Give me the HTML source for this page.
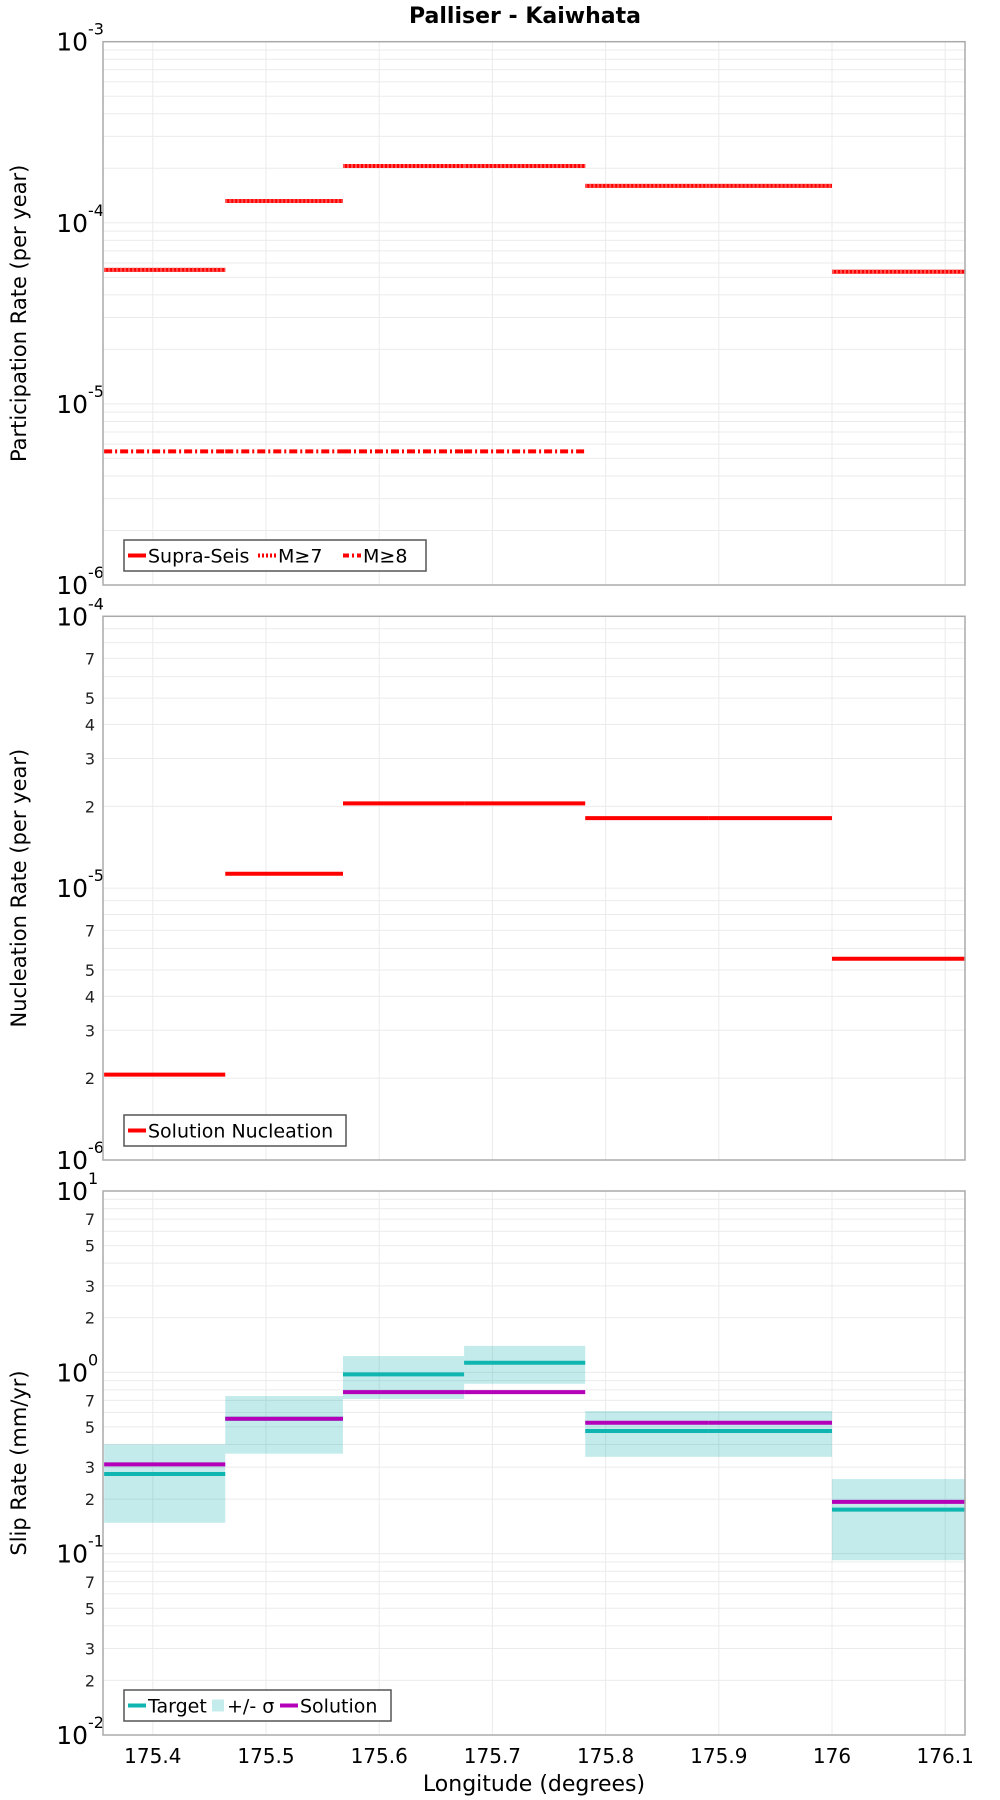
<!DOCTYPE html>
<html><head><meta charset="utf-8"><style>
html,body{margin:0;padding:0;background:#fff;}
svg{display:block;font-family:"DejaVu Sans","Liberation Sans",sans-serif;}
</style></head><body>
<svg id="chart" xmlns="http://www.w3.org/2000/svg" width="1000" height="1800" viewBox="0 0 1000 1800">
<text x="525" y="23" text-anchor="middle" font-size="22" font-weight="bold">Palliser - Kaiwhata</text>
<text x="534" y="1791" text-anchor="middle" font-size="22">Longitude (degrees)</text>
</svg>
<script>
const segStart = [175.357, 175.464, 175.568, 175.675, 175.782, 175.891, 176.0];
const segEnd   = [175.464, 175.568, 175.675, 175.782, 175.891, 176.0, 176.118];
const partSupra = [5.5e-5, 1.32e-4, 2.06e-4, 2.06e-4, 1.6e-4, 1.6e-4, 5.37e-5];
const partM8 = [5.47e-6, 5.47e-6, 5.47e-6, 5.47e-6];
const nucl = [2.06e-6, 1.13e-5, 2.05e-5, 2.05e-5, 1.81e-5, 1.81e-5, 5.5e-6];
const slipTarget = [0.275, 0.555, 0.975, 1.13, 0.475, 0.475, 0.175];
const slipSolution = [0.311, 0.555, 0.778, 0.778, 0.527, 0.527, 0.193];
const slipHigh = [0.401, 0.740, 1.23, 1.40, 0.612, 0.612, 0.258];
const slipLow = [0.148, 0.356, 0.713, 0.865, 0.342, 0.342, 0.092];
const xTicks = [175.4, 175.5, 175.6, 175.7, 175.8, 175.9, 176.0, 176.1];
const xTickLabels = ["175.4","175.5","175.6","175.7","175.8","175.9","176","176.1"];

const NS = "http://www.w3.org/2000/svg";
const svg = document.getElementById('chart');
const X0 = 103, X1 = 965, XMIN = 175.356, XMAX = 176.1175;
function xs(v){ return X0 + (v - XMIN) / (XMAX - XMIN) * (X1 - X0); }
function mk(tag, attrs, parent){ const e = document.createElementNS(NS, tag); for (const k in attrs) e.setAttribute(k, attrs[k]); (parent||svg).appendChild(e); return e; }

function panel(name, top, bot, lmax, lmin, minorLabels, title){
  const g = mk('g', {});
  
  
  const ys = v => top + (lmax - Math.log10(v)) / (lmax - lmin) * (bot - top);
  for (let d = lmin; d < lmax; d++) {
    for (let m = 1; m <= 9; m++) {
      const y = ys(m * Math.pow(10, d));
      const gl = mk('line', {x1:X0, x2:X1, y1:y, y2:y, stroke:'#ebebeb', 'stroke-width':1}, g);
      
      
      if (m > 1 && minorLabels.includes(m)) {
        const t = mk('text', {x:95, y:y+6, 'text-anchor':'end', 'font-size':16, fill:'#222'}, g);
        
        
        t.textContent = String(m);
      }
    }
  }
  for (let i = 0; i < xTicks.length; i++) {
    const x = xs(xTicks[i]);
    const gl = mk('line', {x1:x, x2:x, y1:top, y2:bot, stroke:'#ebebeb', 'stroke-width':1}, g);
    
    
  }
  for (let d = lmin; d <= lmax; d++) {
    const y = ys(Math.pow(10, d));
    const t = mk('text', {x:88, y:y+9, 'text-anchor':'end', 'font-size':25}, g);
    
    
    t.textContent = '10';
    const e = mk('text', {x:88, y:y-7, 'text-anchor':'start', 'font-size':16}, g);
    
    
    e.textContent = String(d);
  }
  const at = mk('text', {x:0, y:0, 'text-anchor':'middle', 'font-size':21, transform:`translate(26 ${(top+bot)/2}) rotate(-90)`}, g);
  
  
  at.textContent = title;
  return {g, ys};
}
function border(g, top, bot){
  const r = mk('rect', {x:X0, y:top, width:X1-X0, height:bot-top, fill:'none', stroke:'#aaaaaa', 'stroke-width':1.5}, g);
  
  
}
function seg(g, name, i, y, color, dash){
  const a = {x1:xs(segStart[i]), x2:xs(segEnd[i]), y1:y, y2:y, stroke:color, 'stroke-width':4};
  if (dash) a['stroke-dasharray'] = dash;
  const l = mk('line', a, g);
  
  
}
function legend(g, x, y, w, h, items){
  const r = mk('rect', {x:x, y:y, width:w, height:h, fill:'#fff', stroke:'#555', 'stroke-width':1.5}, g);
  
  
  for (const it of items) {
    const s = it.box ? mk('rect', {x:it.x, y:y+h/2-6, width:12, height:12, fill:it.color}, g)
      : mk('line', {x1:it.x, x2:it.x+18, y1:y+h/2, y2:y+h/2, stroke:it.color, 'stroke-width':4, 'stroke-dasharray':it.dash||'none'}, g);
    
    
    const t = mk('text', {x:it.x+(it.box?15:20), y:y+h/2+7, 'font-size':19}, g);
    
    
    t.textContent = it.label;
  }
}

let p = panel('participation-panel', 41.7, 585, -3, -6, [], 'Participation Rate (per year)');
for (let i = 0; i < partSupra.length; i++) { seg(p.g, 'supra-seis-segment', i, p.ys(partSupra[i]), '#ff0000'); seg(p.g, 'm7-segment', i, p.ys(partSupra[i]), '#ff5050', '2 2'); }
for (let i = 0; i < partM8.length; i++) seg(p.g, 'm8-segment', i, p.ys(partM8[i]), '#ff0000', '8 3 2 3');
border(p.g, 41.7, 585);
legend(p.g, 124, 540, 302, 31, [{x:128,color:'#ff0000',label:'Supra-Seis'},{x:258,color:'#ff0000',dash:'2 2',label:'M≥7'},{x:343,color:'#ff0000',dash:'6 3 2 3',label:'M≥8'}]);

p = panel('nucleation-panel', 616.3, 1160, -4, -6, [2,3,4,5,7], 'Nucleation Rate (per year)');
for (let i = 0; i < nucl.length; i++) seg(p.g, 'nucleation-segment', i, p.ys(nucl[i]), '#ff0000');
border(p.g, 616.3, 1160);
legend(p.g, 124, 1115, 222, 31, [{x:128,color:'#ff0000',label:'Solution Nucleation'}]);

p = panel('slip-rate-panel', 1191, 1735, 1, -2, [2,3,5,7], 'Slip Rate (mm/yr)');
for (let i = 0; i < slipTarget.length; i++) {
  const r = mk('rect', {x:xs(segStart[i]), y:p.ys(slipHigh[i]), width:xs(segEnd[i])-xs(segStart[i]), height:p.ys(slipLow[i])-p.ys(slipHigh[i]), fill:'#00aaaa', 'fill-opacity':0.23}, p.g);
  
  
}
for (let i = 0; i < slipTarget.length; i++) seg(p.g, 'target-segment', i, p.ys(slipTarget[i]), '#0fb5b0');
for (let i = 0; i < slipSolution.length; i++) seg(p.g, 'solution-segment', i, p.ys(slipSolution[i]), '#b400b8');
border(p.g, 1191, 1735);
legend(p.g, 124, 1690, 267, 31, [{x:128,color:'#0fb5b0',label:'Target'},{x:212,color:'#c4ecec',box:true,label:'+/- σ'},{x:280,color:'#b400b8',label:'Solution'}]);
for (let i = 0; i < xTicks.length; i++) {
  const t = mk('text', {x:xs(xTicks[i]), y:1763, 'text-anchor':'middle', 'font-size':20});
  
  
  t.textContent = xTickLabels[i];
}
</script>
</body></html>
